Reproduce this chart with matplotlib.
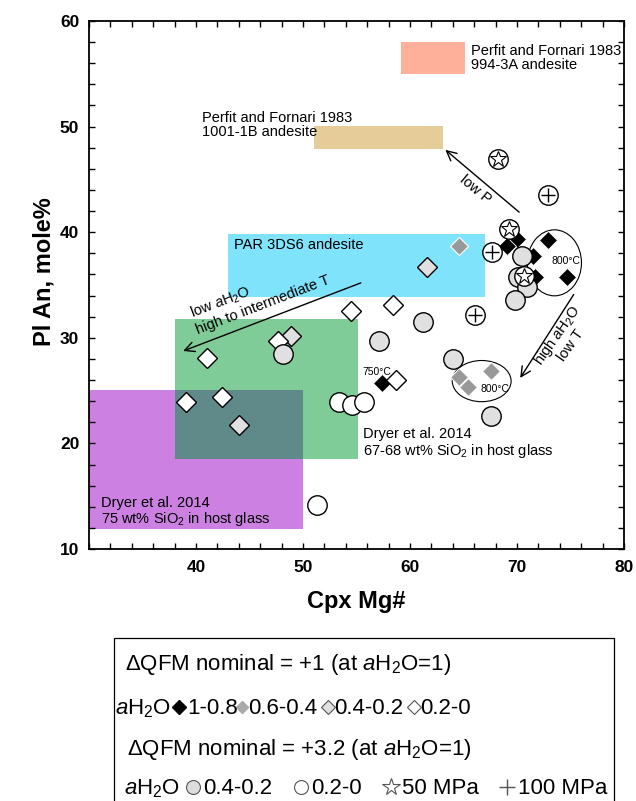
import matplotlib
matplotlib.use('Agg')
import matplotlib.pyplot as plt
from matplotlib.patches import Rectangle, Ellipse
from matplotlib.lines import Line2D

plt.rcParams['font.family'] = ['Liberation Sans', 'DejaVu Sans']
plt.rcParams['mathtext.fontset'] = 'custom'
plt.rcParams['mathtext.rm'] = 'Liberation Sans'
plt.rcParams['mathtext.it'] = 'Liberation Sans:italic'
plt.rcParams['mathtext.bf'] = 'Liberation Sans:bold'

# %% data
# reference fields: x0, x1, y0, y1 (Cpx Mg#, Pl An)
field_994 = [59.2, 65.1, 55.0, 58.0]
field_1001 = [51.0, 63.1, 47.9, 50.1]
field_par = [43.0, 67.0, 33.9, 39.8]
field_d67 = [38.0, 55.1, 18.5, 31.8]
field_d75 = [29.0, 50.0, 11.9, 25.1]

# dQFM +1 runs, by aH2O
blk_x = [57.4, 70.0, 69.1, 71.5, 72.9, 71.7, 74.7]
blk_y = [25.7, 39.4, 38.7, 37.75, 39.3, 35.8, 35.8]
gry_x = [64.6, 64.6, 65.4, 67.6]
gry_y = [38.7, 26.3, 25.3, 26.85]
ltd_x = [61.6, 48.9, 44.0]
ltd_y = [36.7, 30.2, 21.7]
wd_x = [41.0, 39.1, 42.4, 47.7, 54.5, 58.4, 58.7]
wd_y = [28.1, 23.9, 24.4, 29.7, 32.5, 33.1, 26.0]

# dQFM +3.2 runs
ltc_x = [48.1, 61.2, 57.1, 64.0, 67.6, 70.5, 70.1, 70.9, 69.8]
ltc_y = [28.5, 31.5, 29.7, 28.0, 22.6, 37.75, 35.75, 34.8, 33.6]
wc_x = [53.4, 54.6, 55.7, 51.3]
wc_y = [23.9, 23.6, 23.9, 14.2]
p50_x = [68.2, 69.25, 70.65]
p50_y = [46.9, 40.3, 35.85]
p100_x = [72.9, 67.65, 66.1]
p100_y = [43.5, 38.1, 32.2]

W, H = 636, 801
fig = plt.figure(figsize=(W / 100, H / 100), dpi=100)
ax = fig.add_axes([89 / W, 1 - 549 / H, 535 / W, 528 / H])
ax.set_xlim(30, 80)
ax.set_ylim(10, 60)


def field(r, color, z=1):
    x0, x1, y0, y1 = r
    ax.add_patch(Rectangle((x0, y0), x1 - x0, y1 - y0, facecolor=color,
                           edgecolor='none', zorder=z))


field(field_994, '#ffb09a')
field(field_1001, '#e5cc98')
field(field_par, '#80e3fc')
field(field_d67, '#80cc98')
field(field_d75, '#cc80e2')
# overlap of the two Dryer fields
ov = [max(field_d67[0], field_d75[0]), min(field_d67[1], field_d75[1]),
      max(field_d67[2], field_d75[2]), min(field_d67[3], field_d75[3])]
field(ov, '#60898a', z=1.5)

tfs = 10.5
ax.text(65.7, 56.5, 'Perfit and Fornari 1983\n994-3A andesite',
        fontsize=tfs, va='center', ha='left', linespacing=1.05)
ax.text(40.6, 50.15, 'Perfit and Fornari 1983\n1001-1B andesite',
        fontsize=tfs, va='center', ha='left', linespacing=1.05)
ax.text(43.55, 38.8, 'PAR 3DS6 andesite', fontsize=tfs, va='center')
ax.text(31.1, 13.5, 'Dryer et al. 2014\n75 wt% SiO$_2$ in host glass',
        fontsize=tfs, va='center', ha='left', linespacing=1.05)
ax.text(55.6, 20.0, 'Dryer et al. 2014\n67-68 wt% SiO$_2$ in host glass',
        fontsize=tfs, va='center', ha='left', linespacing=1.05)

# trend arrows
ap = dict(arrowstyle='->,head_length=0.7,head_width=0.35', lw=1.0,
          color='k', shrinkA=0, shrinkB=0)
ax.annotate('', xy=(63.3, 47.8), xytext=(70.2, 41.9), arrowprops=ap,
            zorder=6)
ax.text(66.1, 44.0, 'low P', fontsize=tfs, rotation=-40,
        ha='center', va='center', rotation_mode='anchor')
ax.annotate('', xy=(38.8, 28.75), xytext=(55.4, 35.2), arrowprops=ap,
            zorder=6)
ax.text(39.7, 31.9, r'low $a\mathrm{H_2O}$', fontsize=tfs, rotation=21,
        ha='left', va='baseline', rotation_mode='anchor')
ax.text(40.2, 30.3, 'high to intermediate T', fontsize=tfs, rotation=21,
        ha='left', va='baseline', rotation_mode='anchor')
ax.annotate('', xy=(70.3, 26.2), xytext=(75.3, 34.1), arrowprops=ap,
            zorder=6)
ax.text(74.3, 29.8, 'high $a\\mathrm{H_2O}$\nlow T', fontsize=tfs,
        rotation=55, ha='center', va='center', rotation_mode='anchor',
        multialignment='center', linespacing=1.0)

# temperature groups
ax.add_patch(Ellipse((73.5, 37.1), 5.05, 6.25, facecolor='none',
                     edgecolor='k', lw=0.8, zorder=2))
ax.add_patch(Ellipse((66.7, 25.9), 5.5, 3.9, facecolor='none',
                     edgecolor='k', lw=0.8, zorder=2))
ax.text(74.6, 37.3, '800°C', fontsize=7.5, ha='center', va='center')
ax.text(67.9, 25.15, '800°C', fontsize=7.5, ha='center', va='center')
ax.text(56.9, 26.8, '750°C', fontsize=7.5, ha='center', va='center')

# experiments
ax.plot(blk_x, blk_y, ls='none', marker='D', ms=9, mfc='k', mec='w',
        mew=0.6, zorder=3)
ax.plot(gry_x, gry_y, ls='none', marker='D', ms=9, mfc='#999999', mec='w',
        mew=0.8, zorder=3)
ax.plot(ltd_x, ltd_y, ls='none', marker='D', ms=10, mfc='#e0e0e0', mec='k',
        mew=1.0, zorder=3)
ax.plot(wd_x, wd_y, ls='none', marker='D', ms=10, mfc='w', mec='k',
        mew=1.0, zorder=3)
ax.plot(ltc_x, ltc_y, ls='none', marker='o', ms=14, mfc='#e0e0e0', mec='k',
        mew=1.0, zorder=4)
ax.plot(wc_x, wc_y, ls='none', marker='o', ms=14, mfc='w', mec='k',
        mew=1.0, zorder=4)
ax.plot(p50_x, p50_y, ls='none', marker='o', ms=14, mfc='w', mec='k',
        mew=1.0, zorder=5)
ax.plot(p50_x, p50_y, ls='none', marker='*', ms=12, mfc='none', mec='k',
        mew=0.8, zorder=5)
ax.plot(p100_x, p100_y, ls='none', marker='o', ms=14, mfc='w', mec='k',
        mew=1.0, zorder=5)
ax.plot(p100_x, p100_y, ls='none', marker='+', ms=10, mec='k',
        mew=1.0, zorder=5)

# axes
for s in ax.spines.values():
    s.set_linewidth(1.3)
ax.set_xticks(range(40, 81, 10))
ax.set_yticks(range(10, 61, 10))
ax.set_xticks(range(30, 81, 2), minor=True)
ax.set_yticks(range(10, 61, 2), minor=True)
ax.tick_params(which='both', direction='in', top=True, right=True,
               length=4, width=1.0)
ax.tick_params(axis='x', pad=8, labelsize=12.5)
ax.tick_params(axis='y', pad=7, labelsize=12.5)
for lab in ax.get_xticklabels() + ax.get_yticklabels():
    lab.set_fontweight('bold')
ax.set_xlabel('Cpx Mg#', fontsize=17, fontweight='bold')
ax.set_ylabel('Pl An, mole%', fontsize=17, fontweight='bold')
ax.xaxis.set_label_coords(0.5, -0.077)
ax.yaxis.set_label_coords(-0.063, 0.525)

# key box below the plot
fig.add_artist(Rectangle((114 / W, -0.01), 500 / W, 1 - 638 / H + 0.01,
                         transform=fig.transFigure, fill=False, lw=0.9,
                         edgecolor='k'))
renderer = fig.canvas.get_renderer()
LFS = 16


def key_row(x, base, parts):
    for p in parts:
        if isinstance(p, str):
            t = fig.text(x / W, 1 - base / H, p, fontsize=LFS, ha='left',
                         va='baseline')
            x += t.get_window_extent(renderer).width
        elif isinstance(p, (int, float)):
            x += p
        else:
            w = p.pop('w')
            fig.add_artist(Line2D([(x + w / 2) / W], [1 - (base - 7) / H],
                                  transform=fig.transFigure, ls='none', **p))
            x += w


aw = r'$a\mathrm{H_2O}$'
key_row(125, 670, [r'ΔQFM nominal = +1 (at ' + aw + '=1)'])
key_row(115, 714, [aw, 3,
                   dict(w=10, marker='D', ms=7, mfc='k', mec='k'), 3,
                   '1-0.8', 0,
                   dict(w=8, marker='D', ms=6, mfc='#aaaaaa', mec='#aaaaaa'),
                   2, '0.6-0.4', 6,
                   dict(w=10, marker='D', ms=7.5, mfc='#e0e0e0',
                        mec='#555555', mew=0.8),
                   1, '0.4-0.2', 6,
                   dict(w=10, marker='D', ms=7.5, mfc='w', mec='#555555',
                        mew=0.8),
                   1, '0.2-0'])
key_row(127, 755, [r'ΔQFM nominal = +3.2 (at ' + aw + '=1)'])
key_row(124, 794, [aw, 6,
                   dict(w=13, marker='o', ms=10, mfc='#dddddd',
                        mec='#555555', mew=0.8),
                   4, '0.4-0.2', 22,
                   dict(w=13, marker='o', ms=10, mfc='w', mec='#555555',
                        mew=0.8),
                   4, '0.2-0', 22,
                   dict(w=14, marker='*', ms=13, mfc='none', mec='#555555',
                        mew=0.8),
                   4, '50 MPa', 22,
                   dict(w=12, marker='+', ms=11, mec='#555555', mew=1.0),
                   5, '100 MPa'])

fig.savefig('out.png', dpi=100)
